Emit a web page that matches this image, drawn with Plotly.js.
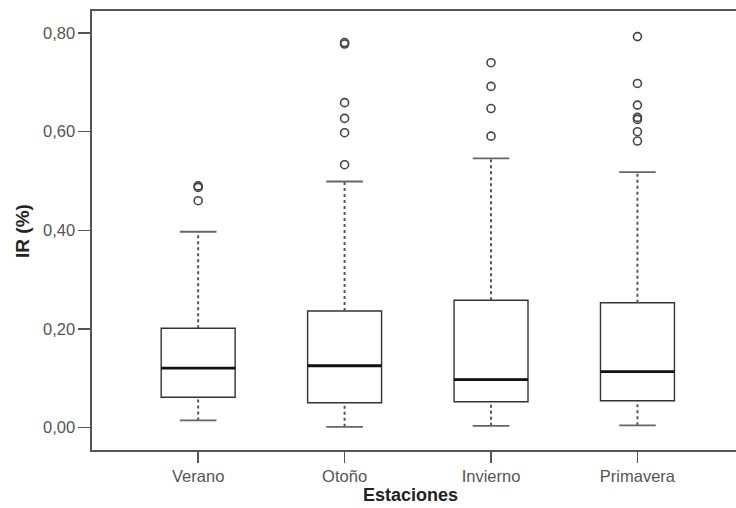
<!DOCTYPE html>
<html>
<head>
<meta charset="utf-8">
<script src="https://cdn.plot.ly/plotly-3.0.1.min.js"></script>
<style>
  html, body { margin: 0; padding: 0; background: #fff; }
  #chart { width: 736px; height: 508px; }
</style>
</head>
<body>
<div id="chart"></div>
<script>
// Seasonal distribution of IR (%)
var categories = ['Verano', 'Otoño', 'Invierno', 'Primavera'];
var q1Values     = [0.061, 0.050, 0.052, 0.054];
var medianValues = [0.120, 0.125, 0.097, 0.113];
var q3Values     = [0.201, 0.236, 0.258, 0.253];
var lowerWhisker = [0.014, 0.001, 0.003, 0.004];
var upperWhisker = [0.397, 0.499, 0.546, 0.518];

var outliersVerano    = [0.460, 0.487, 0.490];
var outliersOtono     = [0.533, 0.598, 0.627, 0.659, 0.778, 0.781];
var outliersInvierno  = [0.591, 0.647, 0.692, 0.740];
var outliersPrimavera = [0.581, 0.600, 0.625, 0.629, 0.654, 0.698, 0.793];
var outlierGroups = [outliersVerano, outliersOtono, outliersInvierno, outliersPrimavera];

var yTickValues = [0, 0.2, 0.4, 0.6, 0.8];

var positions = categories.map(function (c, i) { return i; });
var boxWidth = 0.505;
var capHalf = 0.125;
var medianHalf = boxWidth / 2;

var fontFamily = 'Liberation Sans, Arial, Helvetica, sans-serif';

// box bodies (whiskers are drawn separately so they can be dotted)
var boxes = {
  type: 'box',
  x: positions,
  q1: q1Values,
  median: medianValues,
  q3: q3Values,
  lowerfence: q1Values,
  upperfence: q3Values,
  width: boxWidth,
  whiskerwidth: 0,
  boxpoints: false,
  fillcolor: '#ffffff',
  line: { color: '#333333', width: 1.4 },
  hoverinfo: 'skip',
  showlegend: false
};

var wx = [], wy = [], cx = [], cy = [], mx = [], my = [], ox = [], oy = [];
positions.forEach(function (p, i) {
  wx.push(p, p, null, p, p, null);
  wy.push(q3Values[i], upperWhisker[i], null, lowerWhisker[i], q1Values[i], null);
  cx.push(p - capHalf, p + capHalf, null, p - capHalf, p + capHalf, null);
  cy.push(upperWhisker[i], upperWhisker[i], null, lowerWhisker[i], lowerWhisker[i], null);
  mx.push(p - medianHalf, p + medianHalf, null);
  my.push(medianValues[i], medianValues[i], null);
  outlierGroups[i].forEach(function (v) { ox.push(p); oy.push(v); });
});

var whiskers = {
  type: 'scatter', mode: 'lines', x: wx, y: wy,
  line: { color: '#555555', width: 2, dash: 'dot' },
  hoverinfo: 'skip', showlegend: false
};
var caps = {
  type: 'scatter', mode: 'lines', x: cx, y: cy,
  line: { color: '#666666', width: 1.8 },
  hoverinfo: 'skip', showlegend: false
};
var medians = {
  type: 'scatter', mode: 'lines', x: mx, y: my,
  line: { color: '#111111', width: 2.8 },
  hoverinfo: 'skip', showlegend: false
};
var outliers = {
  type: 'scatter', mode: 'markers', x: ox, y: oy,
  marker: { symbol: 'circle-open', size: 8, color: '#444444', line: { width: 1.6 } },
  hoverinfo: 'skip', showlegend: false
};

var layout = {
  width: 736,
  height: 508,
  margin: { l: 92, r: 0, t: 11, b: 58 },
  paper_bgcolor: '#ffffff',
  plot_bgcolor: '#ffffff',
  separators: ',.',
  showlegend: false,
  xaxis: {
    range: [-0.725, 3.673],
    tickvals: positions,
    ticktext: categories,
    ticks: 'outside',
    ticklen: 11,
    tickwidth: 1.5,
    tickcolor: '#555555',
    showline: true,
    mirror: true,
    linecolor: '#555555',
    linewidth: 1.6,
    showgrid: false,
    zeroline: false,
    automargin: false,
    tickfont: { family: fontFamily, size: 16.5, color: '#555555' }
  },
  yaxis: {
    range: [-0.046, 0.845],
    tickvals: yTickValues,
    tickformat: '.2f',
    ticks: 'outside',
    ticklen: 12,
    tickwidth: 1.5,
    tickcolor: '#555555',
    showline: true,
    linecolor: '#555555',
    linewidth: 1.6,
    showgrid: false,
    zeroline: false,
    automargin: false,
    tickfont: { family: fontFamily, size: 16.5, color: '#555555' }
  },
  annotations: [
    {
      text: '<b>IR (%)</b>',
      xref: 'paper', yref: 'paper',
      x: -0.108, y: 0.5,
      xanchor: 'center', yanchor: 'middle',
      textangle: -90,
      showarrow: false,
      font: { family: fontFamily, size: 19, color: '#222222' }
    },
    {
      text: '<b>Estaciones</b>',
      xref: 'paper', yref: 'paper',
      x: 0.495, y: -0.1298,
      xanchor: 'center', yanchor: 'bottom',
      showarrow: false,
      font: { family: fontFamily, size: 18, color: '#222222' }
    }
  ]
};

Plotly.newPlot('chart', [boxes, whiskers, caps, medians, outliers], layout, { staticPlot: true, displayModeBar: false });
</script>
</body>
</html>
